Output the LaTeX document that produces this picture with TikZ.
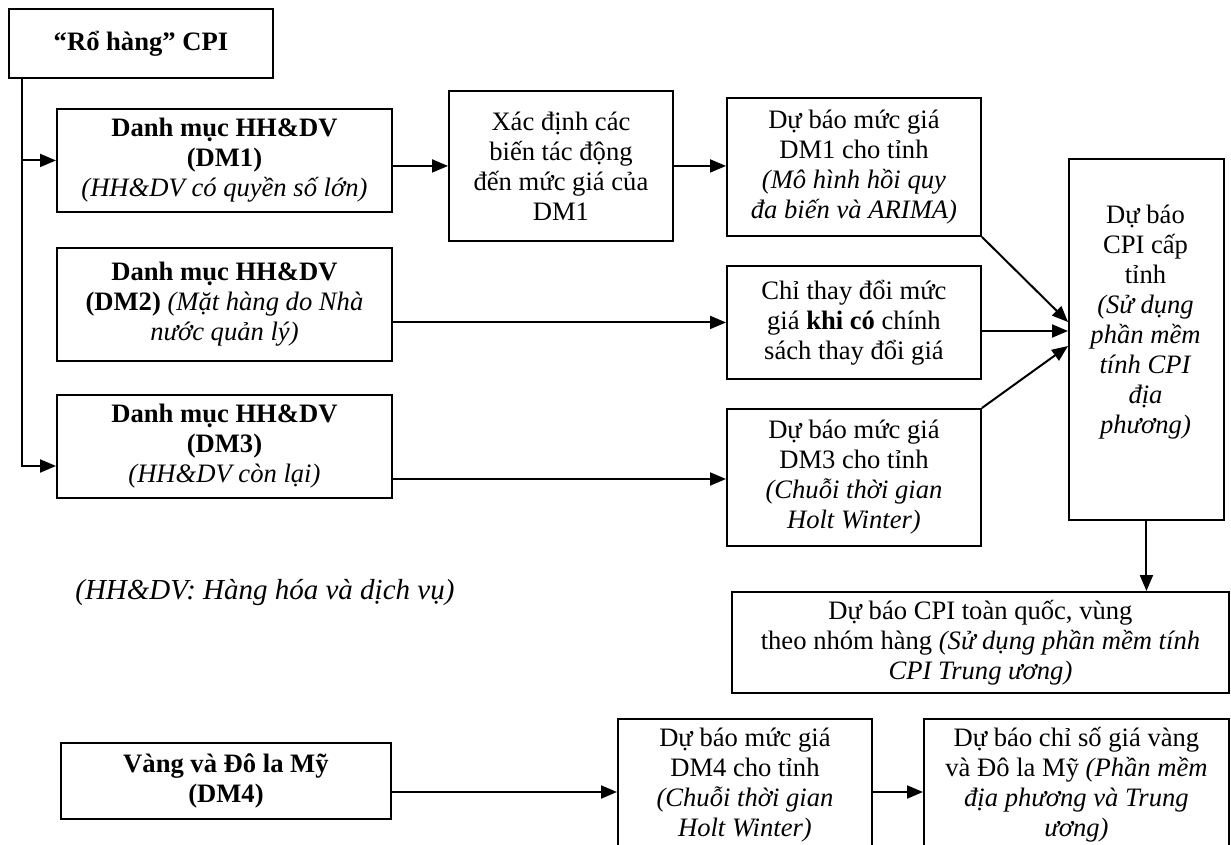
\documentclass[tikz,border=0pt]{standalone}
\usepackage{fontspec}
\setmainfont{Liberation Serif}
\usetikzlibrary{arrows.meta,calc}
\begin{document}
\begin{tikzpicture}[x=0.5pt,y=-0.5pt,
  box/.style={draw, line width=0.95pt, inner sep=0pt, anchor=north west, align=center, font=\fontsize{13.3}{15}\selectfont},
  txt/.style={inner sep=0pt, align=center, font=\fontsize{13.3}{15}\selectfont},
  arr/.style={line width=1pt, -{Triangle[length=8pt,width=6.5pt]}}]
\useasboundingbox (0,0) rectangle (1231,845);
\clip (0,0) rectangle (1231,845);
\fill[white] (0,0) rectangle (1231,845);

\node[box, minimum width=132pt, minimum height=34.5pt] (root) at (8,8) {\bfseries “Rổ hàng” CPI};
\node[box, minimum width=167.5pt, minimum height=51.5pt] (dm1) at (56,108) {\textbf{Danh mục HH\&DV}\\\textbf{(DM1)}\\\textit{(HH\&DV có quyền số lớn)}};
\node[box, minimum width=167.5pt, minimum height=56.5pt] (dm2) at (56,247) {\textbf{Danh mục HH\&DV}\\\textbf{(DM2)} \textit{(Mặt hàng do Nhà}\\\textit{nước quản lý)}};
\node[box, minimum width=167.5pt, minimum height=51.5pt] (dm3) at (56,394) {\textbf{Danh mục HH\&DV}\\\textbf{(DM3)}\\\textit{(HH\&DV còn lại)}};
\node[box, minimum width=112pt, minimum height=75pt] (xd) at (448,90) {Xác định các\\biến tác động\\đến mức giá của\\DM1};
\node[box, minimum width=127pt, minimum height=69pt] (f1) at (726,97) {Dự báo mức giá\\DM1 cho tỉnh\\\textit{(Mô hình hồi quy}\\\textit{đa biến và ARIMA)}};
\node[box, minimum width=127pt, minimum height=56.5pt] (chi) at (726,265) {Chỉ thay đổi mức\\giá \textbf{khi có} chính\\sách thay đổi giá};
\node[box, minimum width=127pt, minimum height=68.5pt] (f3) at (726,408) {Dự báo mức giá\\DM3 cho tỉnh\\\textit{(Chuỗi thời gian}\\\textit{Holt Winter)}};
\node[box, minimum width=77.5pt, minimum height=180.5pt] (cpi) at (1068,158) {};
\node[txt] (cpit) at (1145.5,322) {Dự báo\\CPI cấp\\tỉnh\\\textit{(Sử dụng}\\\textit{phần mềm}\\\textit{tính CPI}\\\textit{địa}\\\textit{phương)}};
\node[box, minimum width=248.5pt, minimum height=50.5pt] (tq) at (731,591) {Dự báo CPI toàn quốc, vùng\\theo nhóm hàng \textit{(Sử dụng phần mềm tính}\\\textit{CPI Trung ương)}};
\node[txt, anchor=west, font=\fontsize{14.5}{16}\selectfont] (note) at (75,593) {\textit{(HH\&DV: Hàng hóa và dịch vụ)}};
\node[box, minimum width=165pt, minimum height=38pt] (dm4) at (60,742) {\textbf{Vàng và Đô la Mỹ}\\\textbf{(DM4)}};
\node[box, minimum width=127pt, minimum height=66pt] (f4) at (617,718) {Dự báo mức giá\\DM4 cho tỉnh\\\textit{(Chuỗi thời gian}\\\textit{Holt Winter)}};
\node[box, minimum width=152.5pt, minimum height=66pt] (last) at (923,718) {Dự báo chỉ số giá vàng\\và Đô la Mỹ \textit{(Phần mềm}\\\textit{địa phương và Trung}\\\textit{ương)}};

\coordinate (trunk) at (22,77);
\coordinate (d3in) at (56,466);
\draw[arr] (trunk) |- (d3in);
\draw[arr] (trunk) |- (dm1.west);
\draw[arr] (dm1.east |- xd.west) -- (xd.west);
\draw[arr] (xd.east) -- (xd.east -| f1.west);
\draw[arr] (dm2.east |- chi.west) -- (chi.west);
\coordinate (r3) at (0,479);
\draw[arr] (dm3.east |- r3) -- (f3.west |- r3);
\coordinate (c1) at (1068,322);
\coordinate (c2) at (1068,331);
\coordinate (c3) at (1068,346);
\draw[arr] (f1.south east) -- (c1);
\draw[arr] (chi.east |- c2) -- (c2);
\draw[arr] (f3.north east) -- (c3);
\draw[arr] (cpi.south) -- (cpi.south |- tq.north);
\coordinate (r4) at (0,792);
\draw[arr] (dm4.east |- r4) -- (f4.west |- r4);
\draw[arr] (f4.east |- r4) -- (last.west |- r4);
\end{tikzpicture}
\end{document}
